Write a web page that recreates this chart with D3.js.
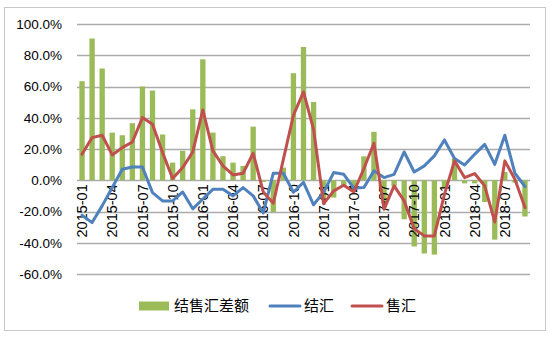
<!DOCTYPE html>
<html>
<head>
<meta charset="utf-8">
<script src="https://cdn.jsdelivr.net/npm/d3@7/dist/d3.min.js"></script>
<style>
  html, body { margin: 0; padding: 0; background: #fff; }
  svg { display: block; }
</style>
</head>
<body>
<svg id="chart" width="550" height="337"></svg>
<script>
// Monthly categories, 2015-01 .. 2018-09
const months = [
  "2015-01","2015-02","2015-03","2015-04","2015-05","2015-06","2015-07","2015-08","2015-09","2015-10","2015-11","2015-12",
  "2016-01","2016-02","2016-03","2016-04","2016-05","2016-06","2016-07","2016-08","2016-09","2016-10","2016-11","2016-12",
  "2017-01","2017-02","2017-03","2017-04","2017-05","2017-06","2017-07","2017-08","2017-09","2017-10","2017-11","2017-12",
  "2018-01","2018-02","2018-03","2018-04","2018-05","2018-06","2018-07","2018-08","2018-09"
];

// 结售汇差额 (bars), %
const netValues = [
  63.4, 90.7, 71.5, 30.5, 28.8, 36.5, 60.0, 57.4, 29.3, 11.3, 18.9, 45.4,
  77.4, 30.5, 15.4, 11.3, 9.2, 34.3, -1.0, -20.3, 8.1, 68.5, 85.3, 50.1,
  -12.0, -11.1, -3.5, -4.7, 15.3, 31.0, -15.0, -4.0, -25.0, -42.4, -46.9, -47.6,
  -5.0, 14.0, -2.0, -2.0, -13.9, -38.0, 5.3, -1.5, -23.2
];

// 结汇 (blue line), %
const settleValues = [
  -22.4, -27.1, -16.4, -4.7, 7.0, 8.5, 8.5, -7.9, -13.2, -13.2, -7.5, -18.3,
  -12.0, -5.8, -5.8, -10.0, -4.7, -10.0, -21.0, 4.5, 4.5, -7.7, -1.3, -15.7,
  -7.7, 4.9, 3.8, -5.0, -4.7, 6.0, 1.7, 3.8, 18.1, 5.3, 9.2, 15.6,
  25.8, 13.9, 9.8, 16.6, 23.0, 10.2, 28.8, 4.5, -4.0
];

// 售汇 (red line), %
const saleValues = [
  16.6, 27.3, 28.8, 16.2, 20.9, 24.5, 40.1, 35.8, 17.7, 1.1, 8.1, 18.1,
  45.0, 18.8, 9.2, 3.4, 4.5, 17.3, -7.5, -14.7, 13.4, 41.6, 56.5, 32.6,
  -15.0, -6.8, -3.2, -7.5, 7.5, 23.7, -18.6, -3.6, -13.2, -31.0, -35.6, -35.6,
  -9.0, 12.4, 1.7, 4.3, -3.6, -26.7, 12.4, 0.6, -17.5
];

const yTicks = [-60, -40, -20, 0, 20, 40, 60, 80, 100];
const xTickLabels = months.filter((m, i) => i % 3 === 0);

const seriesNames = ["结售汇差额", "结汇", "售汇"];
const colors = { net: "#9BBB59", settle: "#4F81BD", sale: "#C0504D" };

const svg = d3.select("#chart");
const W = 550, H = 337;
const plot = { left: 77, right: 530, top: 24, bottom: 274 };

// outer chart frame
svg.append("rect")
  .attr("x", 4.5).attr("y", 7.5)
  .attr("width", 541).attr("height", 323)
  .attr("fill", "#fff")
  .attr("stroke", "#c8c8c8")
  .attr("stroke-width", 1);

const x = d3.scaleBand().domain(months).range([plot.left, plot.right]).padding(0);
const y = d3.scaleLinear().domain([-60, 100]).range([plot.bottom, plot.top]);

// horizontal gridlines
svg.append("g").selectAll("line")
  .data(yTicks)
  .join("line")
  .attr("x1", plot.left).attr("x2", plot.right)
  .attr("y1", d => Math.round(y(d)) + 0.5)
  .attr("y2", d => Math.round(y(d)) + 0.5)
  .attr("stroke", "#ababab")
  .attr("stroke-width", 1.3);

// y axis labels
const yAxis = d3.axisLeft(y)
  .tickValues(yTicks)
  .tickFormat(d => d.toFixed(1) + "%")
  .tickSize(0)
  .tickPadding(0);
const yg = svg.append("g")
  .attr("transform", `translate(62,0)`)
  .call(yAxis);
yg.select(".domain").remove();
yg.selectAll("text")
  .attr("font-family", "'Liberation Sans', Arial, sans-serif")
  .attr("font-size", "13.5px")
  .attr("fill", "#000");

// bars
const barW = x.bandwidth() * 0.53;
svg.append("g").selectAll("rect")
  .data(netValues)
  .join("rect")
  .attr("x", (d, i) => x(months[i]) + (x.bandwidth() - barW) / 2)
  .attr("y", d => y(Math.max(0, d)))
  .attr("width", barW)
  .attr("height", d => Math.abs(y(d) - y(0)))
  .attr("fill", colors.net);

// x axis labels (rotated), every third month
const xAxis = d3.axisBottom(x)
  .tickValues(xTickLabels)
  .tickSize(0)
  .tickPadding(0);
const xg = svg.append("g")
  .attr("transform", `translate(0,${y(0)})`)
  .call(xAxis);
xg.select(".domain").remove();
xg.selectAll("text")
  .attr("font-family", "'Liberation Sans', Arial, sans-serif")
  .attr("font-size", "14.5px")
  .attr("fill", "#000")
  .attr("text-anchor", "end")
  .attr("transform", "rotate(-90)")
  .attr("x", -4)
  .attr("y", 0)
  .attr("dy", "0.36em");

// lines
const lineGen = d3.line()
  .x((d, i) => x(months[i]) + x.bandwidth() / 2)
  .y(d => y(d));

svg.append("path")
  .datum(settleValues)
  .attr("d", lineGen)
  .attr("fill", "none")
  .attr("stroke", colors.settle)
  .attr("stroke-width", 3)
  .attr("stroke-linejoin", "round")
  .attr("stroke-linecap", "round");

svg.append("path")
  .datum(saleValues)
  .attr("d", lineGen)
  .attr("fill", "none")
  .attr("stroke", colors.sale)
  .attr("stroke-width", 3)
  .attr("stroke-linejoin", "round")
  .attr("stroke-linecap", "round");

// legend
const legend = svg.append("g");
const legY = 306;
const cjk = "'Noto Sans CJK SC', sans-serif";

legend.append("rect")
  .attr("x", 139).attr("y", legY - 4.5)
  .attr("width", 30).attr("height", 9)
  .attr("fill", colors.net);
legend.append("text")
  .attr("x", 174).attr("y", legY)
  .attr("dy", "0.35em")
  .attr("font-family", cjk).attr("font-size", "15px")
  .text(seriesNames[0]);

legend.append("line")
  .attr("x1", 270).attr("x2", 300)
  .attr("y1", legY).attr("y2", legY)
  .attr("stroke", colors.settle).attr("stroke-width", 3)
  .attr("stroke-linecap", "round");
legend.append("text")
  .attr("x", 304).attr("y", legY)
  .attr("dy", "0.35em")
  .attr("font-family", cjk).attr("font-size", "15px")
  .text(seriesNames[1]);

legend.append("line")
  .attr("x1", 352).attr("x2", 382)
  .attr("y1", legY).attr("y2", legY)
  .attr("stroke", colors.sale).attr("stroke-width", 3)
  .attr("stroke-linecap", "round");
legend.append("text")
  .attr("x", 386).attr("y", legY)
  .attr("dy", "0.35em")
  .attr("font-family", cjk).attr("font-size", "15px")
  .text(seriesNames[2]);
</script>
</body>
</html>
